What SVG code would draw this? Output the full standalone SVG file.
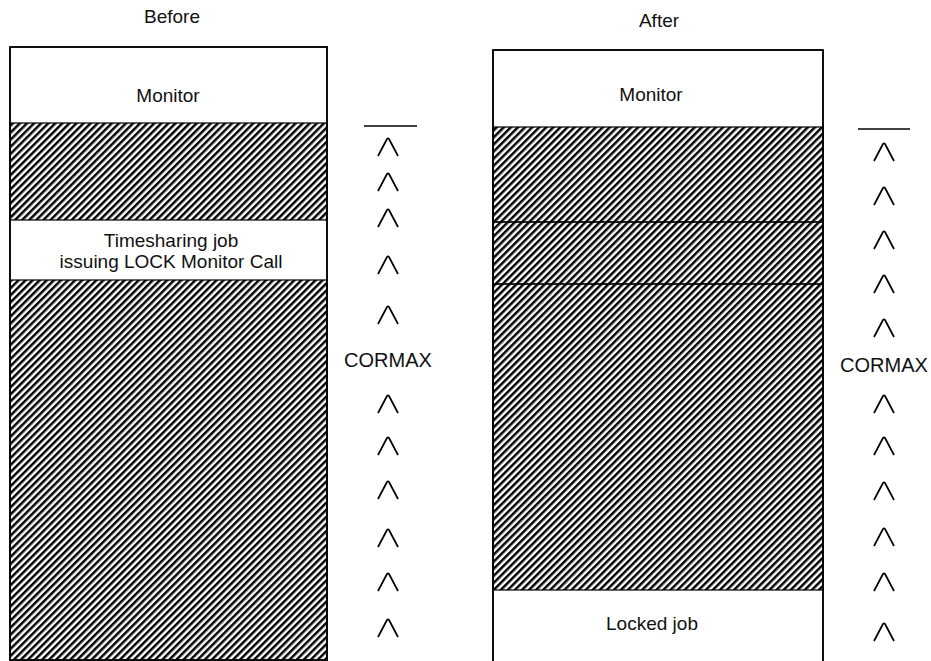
<svg xmlns="http://www.w3.org/2000/svg" width="931" height="661" viewBox="0 0 931 661">
<defs>
<pattern id="hatch" patternUnits="userSpaceOnUse" width="5" height="10" patternTransform="rotate(45)">
<rect x="0" y="0" width="2.5" height="10" fill="#000"/>
</pattern>
<path id="caret" d="M-10,9 L-1,-8 Q0,-9.5 1,-8 L10,9" fill="none" stroke="#000" stroke-width="1.7" stroke-linejoin="round"/>
</defs>
<style>
text{font-family:"Liberation Sans",Arial,sans-serif;font-size:19px;fill:#111;text-anchor:middle}
.box{fill:#fff;stroke:#000;stroke-width:1.5}
.h{fill:url(#hatch);stroke:#000;stroke-width:1.2}
.ln{stroke:#000;stroke-width:1.4}
</style>
<rect width="931" height="661" fill="#fff"/>

<text x="172" y="23">Before</text>
<text x="659" y="27">After</text>

<g id="before">
<rect class="box" x="10" y="47" width="317" height="614"/>
<rect class="h" x="10" y="123" width="317" height="97"/>
<rect class="h" x="10" y="280" width="317" height="380"/>
<rect x="10" y="47" width="317" height="613" fill="none" stroke="#000" stroke-width="1.5"/>
<text x="168" y="102">Monitor</text>
<text x="171" y="247">Timesharing job</text>
<text x="171" y="268">issuing LOCK Monitor Call</text>
</g>

<g id="after">
<rect class="box" x="493" y="50" width="330" height="620"/>
<rect class="h" x="493" y="127" width="330" height="95"/>
<rect class="h" x="493" y="222" width="330" height="62"/>
<rect class="h" x="493" y="284" width="330" height="306"/>
<rect x="493" y="50" width="330" height="620" fill="none" stroke="#000" stroke-width="1.5"/>
<text x="651" y="101">Monitor</text>
<text x="652" y="630">Locked job</text>
</g>

<g id="cormax-before">
<line class="ln" x1="364" y1="126" x2="417" y2="126"/>
<use href="#caret" x="388" y="147"/>
<use href="#caret" x="388" y="182"/>
<use href="#caret" x="388" y="218"/>
<use href="#caret" x="388" y="265"/>
<use href="#caret" x="388" y="315"/>
<text x="388" y="367" style="font-size:20px">CORMAX</text>
<use href="#caret" x="388" y="404"/>
<use href="#caret" x="388" y="446"/>
<use href="#caret" x="388" y="490"/>
<use href="#caret" x="388" y="538"/>
<use href="#caret" x="388" y="582"/>
<use href="#caret" x="388" y="628"/>
</g>

<g id="cormax-after">
<line class="ln" x1="858" y1="129" x2="910" y2="129"/>
<use href="#caret" x="884" y="152"/>
<use href="#caret" x="884" y="196"/>
<use href="#caret" x="884" y="240"/>
<use href="#caret" x="884" y="284"/>
<use href="#caret" x="884" y="328"/>
<text x="884" y="372" style="font-size:20px">CORMAX</text>
<use href="#caret" x="884" y="404"/>
<use href="#caret" x="884" y="446"/>
<use href="#caret" x="884" y="491"/>
<use href="#caret" x="884" y="537"/>
<use href="#caret" x="884" y="582"/>
<use href="#caret" x="884" y="632"/>
</g>
</svg>
